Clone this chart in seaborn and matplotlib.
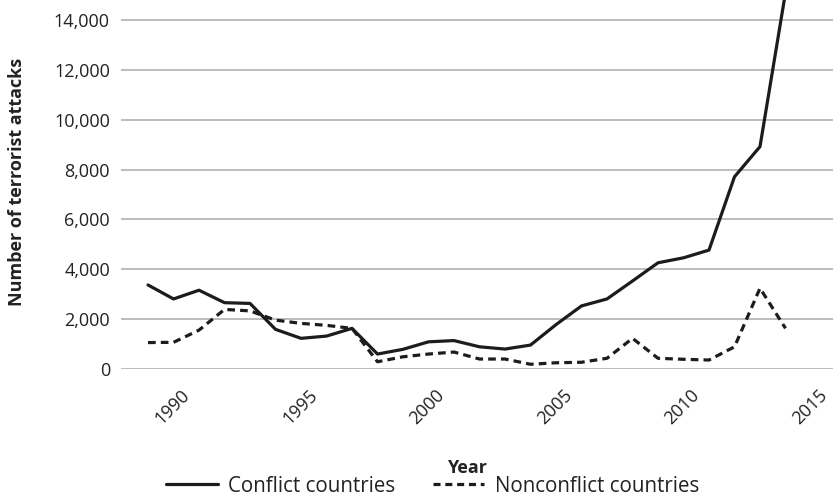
import seaborn as sns
import pandas as pd
import matplotlib.pyplot as plt
import matplotlib.transforms as mtransforms
from matplotlib.lines import Line2D
from matplotlib.ticker import FuncFormatter

years = list(range(1988, 2014))
conflict = [3370, 2810, 3160, 2660, 2630, 1590, 1230, 1320, 1630, 600, 790, 1090, 1140,
            890, 800, 960, 1780, 2530, 2810, 3530, 4260, 4460, 4770, 7710, 8920, 15100]
nonconflict = [1060, 1070, 1560, 2390, 2330, 1960, 1830, 1750, 1630, 290, 490, 600, 680,
               400, 400, 190, 250, 270, 430, 1230, 430, 390, 360, 890, 3240, 1630]
series_names = ["Conflict countries", "Nonconflict countries"]
xticks = [1990, 1995, 2000, 2005, 2010, 2015]
yticks = [0, 2000, 4000, 6000, 8000, 10000, 12000, 14000]

df = pd.DataFrame({
    "Year": years * 2,
    "Attacks": conflict + nonconflict,
    "Group": [series_names[0]] * len(years) + [series_names[1]] * len(years),
})

sns.set_style("white")
plt.rcParams["font.family"] = ["Open Sans", "DejaVu Sans"]
ink = "#1c1c1c"
txt = "#222222"

fig = plt.figure(figsize=(8.33, 4.99), dpi=100)
# axes runs a little past the right edge so that 2015 sits where the reference puts it
ax = fig.add_axes([121 / 833, 1 - 369 / 499, (836.5 - 121) / 833, 369 / 499])

sns.lineplot(data=df, x="Year", y="Attacks", hue="Group", style="Group",
             palette=[ink, ink], dashes=[(None, None), (2.4, 1.6)],
             linewidth=2.3, ax=ax, legend=False)

ax.set_xlim(1986.94, 2015)
ax.set_ylim(0, 14800)
ax.set_xticks(xticks)
ax.set_yticks(yticks)
ax.yaxis.set_major_formatter(FuncFormatter(lambda v, p: f"{int(v):,}"))
ax.grid(axis="y", color="#b3b0ae", linewidth=1.2)
ax.set_axisbelow(True)
for s in ax.spines.values():
    s.set_visible(False)
ax.tick_params(axis="both", length=0, labelsize=13, colors=txt)
ax.tick_params(axis="y", pad=8)
ax.tick_params(axis="x", pad=17)
shift = mtransforms.ScaledTranslation(-12 / 100, 0, fig.dpi_scale_trans)
for lab in ax.get_xticklabels():
    lab.set_rotation(45)
    lab.set_ha("right")
    lab.set_va("center")
    lab.set_rotation_mode("anchor")
    lab.set_transform(lab.get_transform() + shift)

ax.set_xlabel("")
ax.set_ylabel("")
fig.text(467 / 833, 1 - 468 / 499, "Year", ha="center", va="center", fontsize=13,
         fontweight="bold", color=txt)
fig.text(17 / 833, 1 - 182 / 499, "Number of terrorist attacks", ha="center", va="center",
         rotation=90, fontsize=13, fontweight="bold", color=txt)

handles = [Line2D([], [], color=ink, linewidth=2.3),
           Line2D([], [], color=ink, linewidth=2.3, dashes=(2.2, 1.5))]
fig.legend(handles, series_names, loc="center", bbox_to_anchor=(432.5 / 833, 1 - 486 / 499),
           ncol=2, frameon=False, fontsize=14.8, handlelength=2.5, columnspacing=1.85,
           handletextpad=0.5, labelcolor=txt)

plt.savefig("out.png", dpi=100)
plt.close()
